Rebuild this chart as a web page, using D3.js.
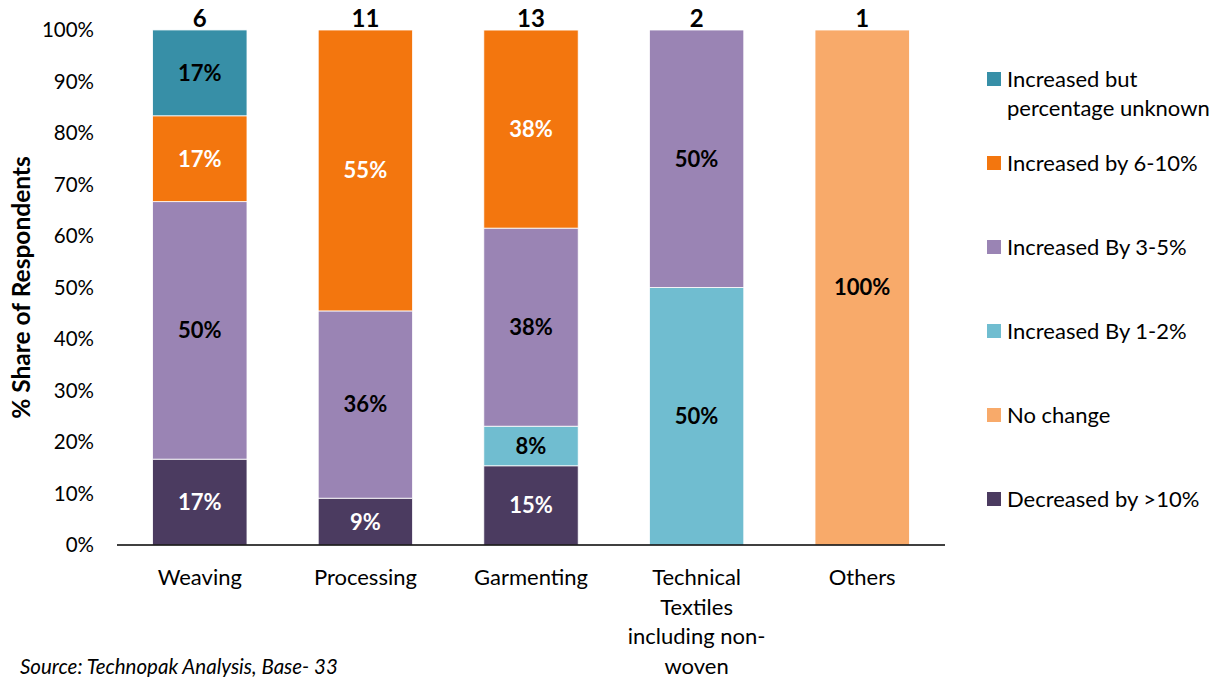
<!DOCTYPE html>
<html><head><meta charset="utf-8">
<script src="https://cdn.jsdelivr.net/npm/d3@7"></script>
<style>
body{margin:0;background:#fff;}
svg{display:block;font-family:Lato,"Open Sans",sans-serif;}
</style></head>
<body><svg id="c" width="1222" height="677"></svg>
<script>
const categories = ["Weaving","Processing","Garmenting","Technical Textiles including non-woven","Others"];
const categoryLines = [["Weaving"],["Processing"],["Garmenting"],["Technical","Textiles","including non-","woven"],["Others"]];
const totals = [6,11,13,2,1];
const seriesNames = ["Decreased by >10%","No change","Increased By 1-2%","Increased By 3-5%","Increased by 6-10%","Increased but percentage unknown"];
const decreased = [16.67, 9.09, 15.38, 0, 0];
const noChange = [0, 0, 0, 0, 100];
const inc12 = [0, 0, 7.69, 50, 0];
const inc35 = [50, 36.36, 38.46, 50, 0];
const inc610 = [16.67, 54.55, 38.46, 0, 0];
const incUnknown = [16.67, 0, 0, 0, 0];
const yTicks = [0,10,20,30,40,50,60,70,80,90,100];
const colors = ["#4B3B60","#F8AA6A","#70BDD0","#9A84B4","#F3760E","#378FA7"];
const labelColors = ["#fff","#000","#000","#000","#fff","#000"];
const legendOrder = [5,4,3,2,1,0];
const legendLines = [["Increased but","percentage unknown"],["Increased by 6-10%"],["Increased By 3-5%"],["Increased By 1-2%"],["No change"],["Decreased by >10%"]];

const seriesVals = [decreased,noChange,inc12,inc35,inc610,incUnknown];
const rows = categories.map((c,i)=>{const r={cat:c}; seriesNames.forEach((s,j)=>r[s]=seriesVals[j][i]); return r;});
const stacked = d3.stack().keys(seriesNames)(rows);

const FF = "Lato,'Open Sans',sans-serif";
const svg = d3.select("#c");
const x0 = 117, x1 = 945, yB = 545, yT = 30;
const x = d3.scaleBand().domain(categories).range([x0,x1]).paddingInner(0.43).paddingOuter(0.215);
const y = d3.scaleLinear().domain([0,100]).range([yB,yT]);

// bars
stacked.forEach((s,j)=>{
  const g = svg.append("g");
  g.selectAll("rect").data(s.filter(d=>d[1]-d[0]>0)).join("rect")
    .attr("x",d=>x(d.data.cat)).attr("width",x.bandwidth())
    .attr("y",d=>y(d[1])).attr("height",d=>y(d[0])-y(d[1]))
    .attr("fill",colors[j]).attr("stroke","#fff").attr("stroke-width",0.8);
  g.selectAll("text").data(s.filter(d=>d[1]-d[0]>0)).join("text")
    .attr("x",d=>x(d.data.cat)+x.bandwidth()/2)
    .attr("y",d=>(y(d[0])+y(d[1]))/2)
    .attr("dy","0.36em").attr("text-anchor","middle")
    .attr("font-size",22).attr("font-weight","bold").attr("fill",labelColors[j])
    .text(d=>Math.round(d[1]-d[0])+"%");
});

// totals
svg.append("g").selectAll("text").data(categories).join("text")
  .attr("x",d=>x(d)+x.bandwidth()/2).attr("y",y(100)-3)
  .attr("text-anchor","middle").attr("font-size",24).attr("font-weight","bold").attr("fill","#000")
  .text((d,i)=>totals[i]);

// y axis
const ya = svg.append("g").attr("transform",`translate(${x0},0)`)
  .call(d3.axisLeft(y).tickValues(yTicks).tickFormat(d=>d+"%").tickSize(0).tickPadding(23));
ya.select(".domain").remove();
ya.selectAll("text").attr("font-size",20.5).attr("font-family",FF).attr("fill","#000");

// x axis
const xa = svg.append("g").attr("transform",`translate(0,${yB})`)
  .call(d3.axisBottom(x).tickSize(0).tickFormat(""));
xa.select(".domain").attr("stroke","#000").attr("stroke-width",1.5).attr("d",`M${x0},0H${x1}`);
xa.selectAll(".tick").each(function(d,i){
  const t = d3.select(this).append("text").attr("fill","#000").attr("font-size",22)
    .attr("font-family",FF).attr("text-anchor","middle");
  categoryLines[i].forEach((l,k)=>t.append("tspan").attr("x",0).attr("y",40+k*29.5).text(l));
});

// y title
svg.append("text").attr("transform",`translate(30,${(yB+yT)/2}) rotate(-90)`)
  .attr("text-anchor","middle").attr("font-size",24.5).attr("font-weight","bold").attr("fill","#000")
  .text("% Share of Respondents");

// legend
const lg = svg.append("g");
const legY = [79,163,247,331,415,499];
legendOrder.forEach((j,k)=>{
  lg.append("rect").attr("x",987).attr("y",legY[k]-7).attr("width",14).attr("height",14).attr("fill",colors[j]);
  const t = lg.append("text").attr("font-size",22).attr("fill","#000");
  legendLines[k].forEach((l,m)=>t.append("tspan").attr("x",1007).attr("y",legY[k]+m*29).attr("dy","0.35em").text(l));
});

// source
svg.append("text").attr("x",20).attr("y",674).attr("font-size",20.5).attr("font-style","italic").attr("fill","#000")
  .text("Source: Technopak Analysis, Base- 33");
</script></body></html>
